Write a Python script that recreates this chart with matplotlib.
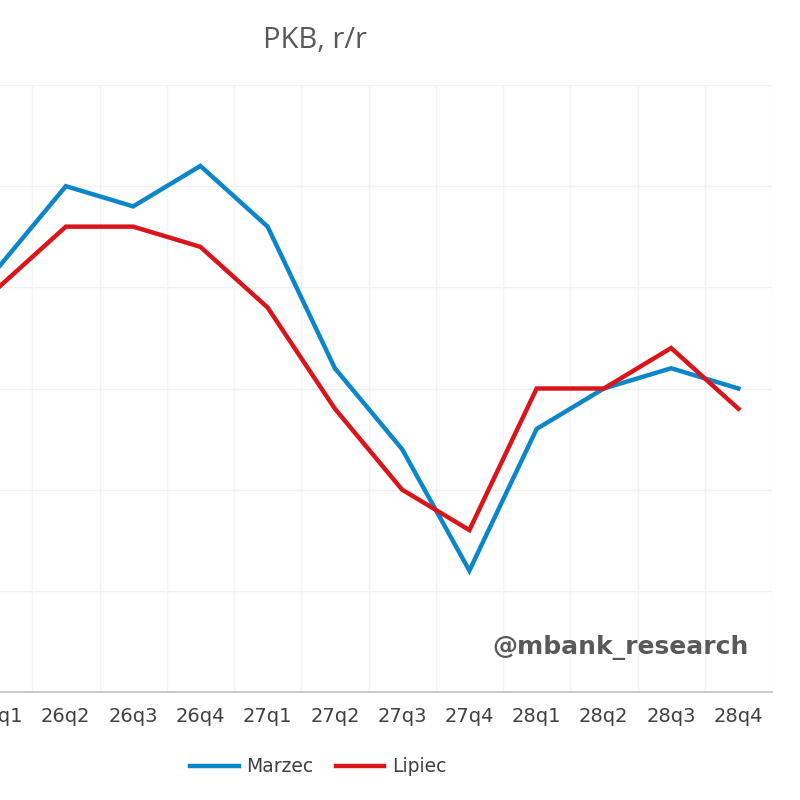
import matplotlib
matplotlib.use("Agg")
import matplotlib.pyplot as plt
from matplotlib.lines import Line2D
import numpy as np

categories = ["26q1", "26q2", "26q3", "26q4", "27q1", "27q2", "27q3", "27q4",
              "28q1", "28q2", "28q3", "28q4"]
marzec = [3.1, 3.5, 3.4, 3.6, 3.3, 2.6, 2.2, 1.6, 2.3, 2.5, 2.6, 2.5]
lipiec = [3.0, 3.3, 3.3, 3.2, 2.9, 2.4, 2.0, 1.8, 2.5, 2.5, 2.7, 2.4]
y_ticks = [1.0, 1.5, 2.0, 2.5, 3.0, 3.5, 4.0]

BLUE = "#0A86C9"
RED = "#D9151B"

plt.rcParams['font.family'] = ['DejaVu Sans']
fig = plt.figure(figsize=(8, 8), dpi=100)
W = H = 800.0
left, right, top, bottom = -35, 772, 85, 692
ax = fig.add_axes([left / W, 1 - bottom / H, (right - left) / W, (bottom - top) / H])

x = np.arange(len(categories))
ax.plot(x, marzec, color=BLUE, lw=3.2, solid_joinstyle='miter', zorder=3)
ax.plot(x, lipiec, color=RED, lw=3.2, solid_joinstyle='miter', zorder=3)

ax.set_xlim(-0.5, len(categories) - 0.5)
ax.set_ylim(y_ticks[0], y_ticks[-1])
ax.set_yticks(y_ticks)
ax.set_yticklabels([])
ax.set_xticks(x)
ax.set_xticklabels(categories, fontsize=14, color="#404040")
ax.set_xticks(np.arange(-0.5, len(categories), 1.0), minor=True)
ax.tick_params(axis='both', which='both', length=0)
ax.tick_params(axis='x', pad=11)
ax.grid(True, axis='y', which='major', color="#F0F0F0", lw=1)
ax.grid(True, axis='x', which='minor', color="#F3F3F3", lw=1)
ax.set_axisbelow(True)
for s in ['top', 'right', 'left']:
    ax.spines[s].set_visible(False)
ax.spines['bottom'].set_color("#BFBFBF")
ax.spines['bottom'].set_linewidth(1.2)

fig.text(315 / W, 1 - 40 / H, "PKB, r/r", ha='center', va='center',
         fontsize=21, color="#595959", family=['Open Sans', 'DejaVu Sans'])
fig.text(749 / W, 1 - 648 / H, "@mbank_research", ha='right', va='center',
         fontsize=18, fontweight='bold', color="#595959")

handles = [Line2D([], [], color=BLUE, lw=3.2), Line2D([], [], color=RED, lw=3.2)]
fig.legend(handles, ["Marzec", "Lipiec"], loc='center', bbox_to_anchor=(318 / W, 1 - 767 / H),
           ncol=2, frameon=False, fontsize=13.5, handlelength=2.6, columnspacing=1.2,
           handletextpad=0.4, labelcolor="#404040")

fig.savefig("out.png", dpi=100, facecolor="white")
